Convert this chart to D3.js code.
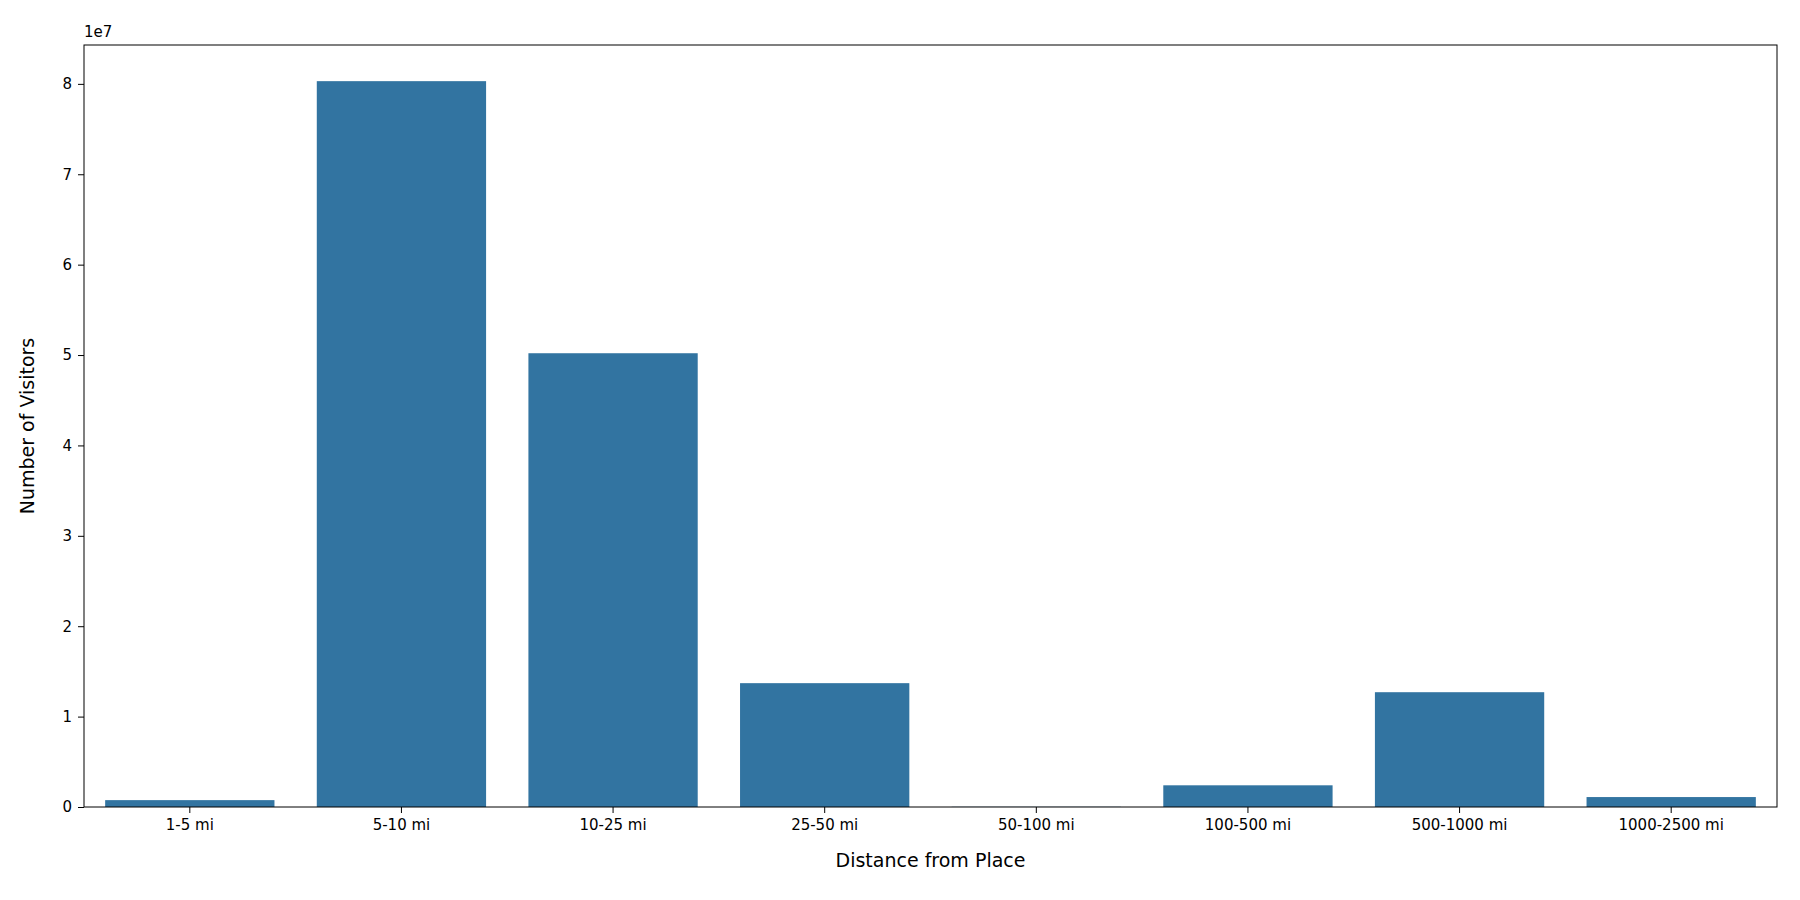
<!DOCTYPE html>
<html>
<head>
<script src="https://d3js.org/d3.v7.min.js"></script>
<style>
  body { margin: 0; background: #fff; }
  text { font-family: "DejaVu Sans", sans-serif; fill: #000; }
</style>
</head>
<body>
<div id="chart"></div>
<script>
// Visitors by distance band
const categories = ["1-5 mi", "5-10 mi", "10-25 mi", "25-50 mi", "50-100 mi", "100-500 mi", "500-1000 mi", "1000-2500 mi"];
const visitors = [760000, 80300000, 50200000, 13700000, 20000, 2400000, 12700000, 1100000];
const yTicks = [0, 1, 2, 3, 4, 5, 6, 7, 8];

const W = 1800, H = 900;
const margin = { top: 45, right: 23, bottom: 93, left: 84 };
const w = W - margin.left - margin.right;
const h = H - margin.top - margin.bottom;

const svg = d3.select("#chart").append("svg")
    .attr("width", W).attr("height", H);
const g = svg.append("g")
    .attr("transform", `translate(${margin.left},${margin.top})`);

const x = d3.scaleBand().domain(categories).range([0, w]).paddingInner(0.2).paddingOuter(0.1);
const y = d3.scaleLinear().domain([0, 8.43e7]).range([h, 0]);

g.selectAll("rect").data(visitors).join("rect")
    .attr("x", (d, i) => x(categories[i]))
    .attr("width", x.bandwidth())
    .attr("y", d => y(d))
    .attr("height", d => h - y(d))
    .attr("fill", "#3274a1");

const xAxis = g.append("g").attr("transform", `translate(0,${h})`)
    .call(d3.axisBottom(x).tickSize(6).tickPadding(6));
const yAxis = g.append("g")
    .call(d3.axisLeft(y).tickValues(yTicks.map(t => t * 1e7)).tickFormat(d => d / 1e7).tickSize(6).tickPadding(6));
[xAxis, yAxis].forEach(a => {
  a.selectAll("text").style("font-size", "15px").style("font-family", "DejaVu Sans");
  a.select(".domain").remove();
  a.selectAll("line").attr("stroke", "#000");
});

g.append("rect").attr("width", w).attr("height", h)
    .attr("fill", "none").attr("stroke", "#000").attr("stroke-width", 1);

g.append("text").attr("x", 0).attr("y", -8).style("font-size", "15px").text("1e7");

g.append("text").attr("x", w / 2).attr("y", h + 60)
    .attr("text-anchor", "middle").style("font-size", "19px").text("Distance from Place");
g.append("text").attr("transform", `translate(-50,${h / 2}) rotate(-90)`)
    .attr("text-anchor", "middle").style("font-size", "19px").text("Number of Visitors");
</script>
</body>
</html>
